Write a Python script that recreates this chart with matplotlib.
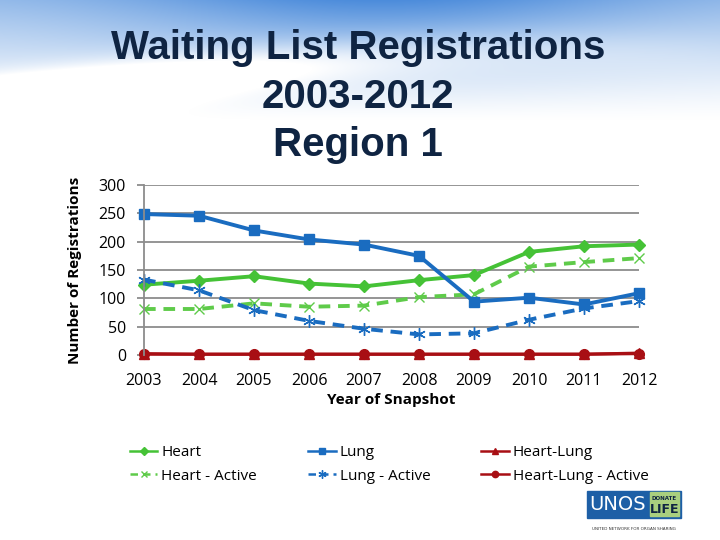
import numpy as np
import matplotlib
matplotlib.use("Agg")
import matplotlib.pyplot as plt
from matplotlib.patches import Rectangle

years = [2003, 2004, 2005, 2006, 2007, 2008, 2009, 2010, 2011, 2012]
heart = [124, 131, 139, 126, 121, 132, 141, 182, 192, 195]
heart_active = [81, 81, 91, 85, 87, 102, 107, 156, 164, 171]
lung = [249, 246, 220, 204, 195, 175, 94, 101, 89, 109]
lung_active = [133, 114, 79, 60, 46, 36, 38, 62, 82, 95]
heart_lung = [2, 1, 1, 1, 1, 1, 1, 1, 1, 3]
heart_lung_active = [1, 1, 1, 1, 1, 1, 1, 1, 1, 2]

title_lines = ["Waiting List Registrations", "2003-2012", "Region 1"]

GREEN = "#45c236"
GREEN_L = "#5fcb4a"
BLUE = "#1a6cc0"
RED = "#a80f14"
NAVY = "#0f2442"
FONT = ["Open Sans", "DejaVu Sans"]

fig = plt.figure(figsize=(7.2, 5.4), dpi=100)

# background: blue sky at top with a white swoosh, fading into white
bg = fig.add_axes([0, 0, 1, 1], zorder=-10)
h, w = 540, 720
yy, xx = np.mgrid[0:h, 0:w].astype(float)
fade = np.clip(1 - yy / 120.0, 0, 1) ** 1.3
centre = 0.55 + 0.45 * np.exp(-((xx - 380) / 260.0) ** 2)
curve = 95 - 0.11 * xx + 0.00012 * (xx - 200) ** 2
swoosh = np.exp(-((yy - curve) / 22.0) ** 2) * np.clip(1 - xx / 750.0, 0, 1)
t = np.clip(fade * centre - 0.6 * swoosh, 0, 1)
top = np.array([0.30, 0.55, 0.86])
img = 1 - t[..., None] * (1 - top)
bg.imshow(img, aspect="auto", extent=[0, 1, 0, 1])
bg.axis("off")

for i, line in enumerate(title_lines):
    fig.text(0.497, 0.911 - i * 0.09, line, ha="center", va="center", fontsize=29,
             fontweight="bold", color=NAVY, family="Liberation Sans")

ax = fig.add_axes([0.2, 0.343, 0.6875, 0.314])
ax.set_facecolor("none")

ax.plot(years, heart, color=GREEN, lw=2.8, marker="D", ms=6, label="Heart", clip_on=False)
ax.plot(years, heart_active, color=GREEN_L, lw=2.8, ls=(0, (3, 2)), marker="x", ms=7,
        mew=1, label="Heart - Active", clip_on=False)
ax.plot(years, lung, color=BLUE, lw=2.8, marker="s", ms=7, label="Lung", clip_on=False)
ax.plot(years, lung_active, color=BLUE, lw=2.8, ls=(0, (3, 2)), marker=(6, 2, 0), ms=9,
        mew=1, label="Lung - Active", clip_on=False)
ax.plot(years, heart_lung, color=RED, lw=2.2, marker="^", ms=7, label="Heart-Lung", clip_on=False)
ax.plot(years, heart_lung_active, color=RED, lw=2.2, marker="o", ms=7,
        label="Heart-Lung - Active", clip_on=False)

ax.set_xlim(2003, 2012)
ax.set_ylim(0, 300)
ax.set_yticks(range(0, 301, 50))
ax.set_xticks(years)
ax.grid(axis="y", color="#8c8c8c", lw=1.3)
ax.set_axisbelow(True)
for s in ["top", "right", "bottom"]:
    ax.spines[s].set_visible(False)
ax.spines["left"].set_color("#8c8c8c")
ax.spines["left"].set_linewidth(1.3)
ax.tick_params(axis="y", length=5, color="#8c8c8c", width=1.3, pad=8)
ax.tick_params(axis="x", length=0, pad=13)
for lbl in ax.get_xticklabels() + ax.get_yticklabels():
    lbl.set_family(FONT)
    lbl.set_fontsize(11.5)
ax.set_xlabel("Year of Snapshot", family=FONT, fontsize=11, fontweight="bold", labelpad=3)
ax.set_ylabel("Number of Registrations", family=FONT, fontsize=11, fontweight="bold", labelpad=12)

leg = fig.legend(loc="upper left", bbox_to_anchor=(0.172, 0.187), ncol=3, frameon=False,
                 prop={"family": FONT, "size": 11}, handlelength=1.8, handletextpad=0.25,
                 columnspacing=3.35, labelspacing=0.55, markerscale=0.65, borderaxespad=0)
for ln in leg.get_lines():
    ln.set_linewidth(1.8)

# UNOS logo
la = fig.add_axes([0.812, 0.0, 0.17, 0.11])
la.set_xlim(0, 100)
la.set_ylim(0, 60)
la.axis("off")
la.add_patch(Rectangle((2, 22), 77, 28, color="#1d5fa6"))
la.add_patch(Rectangle((53, 24), 24, 24, color="#a9cf7e"))
la.text(27, 36, "UNOS", color="white", fontsize=14, ha="center", va="center",
        family="Liberation Sans Narrow")
la.text(65, 42, "DONATE", color=NAVY, fontsize=4, ha="center", va="center", fontweight="bold")
la.text(65, 31, "LIFE", color=NAVY, fontsize=9, ha="center", va="center", fontweight="bold")
la.text(40, 11, "UNITED NETWORK FOR ORGAN SHARING", color="#333333", fontsize=3,
        ha="center", va="center")

fig.savefig("out.png", dpi=100)
